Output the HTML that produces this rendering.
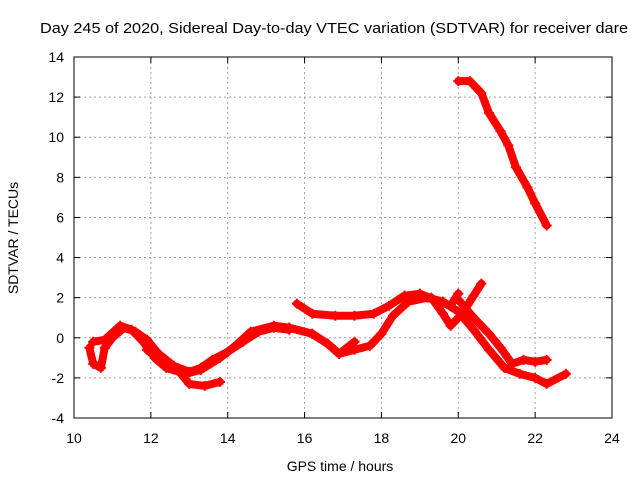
<!DOCTYPE html>
<html><head><meta charset="utf-8"><style>body{margin:0;background:#fff}svg{font-family:"Liberation Sans",sans-serif}</style></head>
<body>
<svg id="chart" width="640" height="480" xmlns="http://www.w3.org/2000/svg">
<text x="40" y="33" font-size="15" textLength="588" lengthAdjust="spacingAndGlyphs">Day 245 of 2020, Sidereal Day-to-day VTEC variation (SDTVAR) for receiver dare</text>
<text x="340" y="471" font-size="14" text-anchor="middle">GPS time / hours</text>
<text transform="translate(18,238) rotate(-90)" font-size="14" text-anchor="middle">SDTVAR / TECUs</text>
<g id="grid"></g><g id="series"></g>
<rect x="74" y="57" width="538" height="361" fill="none" stroke="#000" stroke-width="1"/>
</svg>
<script>
const xTicks=[10,12,14,16,18,20,22,24];
const yTicks=[-4,-2,0,2,4,6,8,10,12,14];
const sA_x=[10.4,10.5,10.7,10.8,11.0,11.3,11.6,11.9,12.2,12.6,13.0,13.3,13.6,14.0,14.4,14.8,15.2,15.6];
const sA_y=[-0.5,-1.3,-1.5,-0.5,0,0.5,0.3,-0.1,-0.8,-1.4,-1.7,-1.5,-1.1,-0.7,-0.2,0.3,0.5,0.4];
const sB_x=[10.5,10.8,11.2,11.5,11.8,12.1,12.4,12.9,13.3,13.8,14.2,14.6,15.2,15.6,16.2,16.6,16.9,17.3];
const sB_y=[-0.2,-0.1,0.6,0.4,-0.2,-1.0,-1.5,-1.8,-1.6,-1.0,-0.4,0.3,0.6,0.5,0.2,-0.3,-0.8,-0.2];
const sC_x=[11.9,12.3,12.7,13.0,13.4,13.8];
const sC_y=[-0.6,-1.2,-1.6,-2.3,-2.4,-2.2];
const sD_x=[15.8,16.2,16.8,17.3,17.8,18.2,18.6,19.0,19.5,19.8,20.0];
const sD_y=[1.7,1.2,1.1,1.1,1.2,1.6,2.1,2.2,1.8,1.6,2.2];
const sE_x=[15.6,16.2,16.6,16.9,17.3,17.7,18.0,18.3,18.7,19.2,19.6,20.0,20.4,20.8,21.2,21.6,22.0,22.3,22.8];
const sE_y=[0.5,0.2,-0.3,-0.8,-0.6,-0.4,0.2,1.1,1.8,2.0,1.8,1.3,0.4,-0.6,-1.5,-1.8,-2.0,-2.3,-1.8];
const sF_x=[19.3,19.6,19.8,20.1,20.4,20.6];
const sF_y=[2.0,1.2,0.6,1.2,2.1,2.7];
const sG_x=[20.0,20.4,20.8,21.1,21.4,21.7,22.0,22.3];
const sG_y=[1.9,1.0,0.2,-0.5,-1.3,-1.1,-1.2,-1.1];
const sH_x=[20.0,20.3,20.6,20.8,21.1,21.3,21.5,21.8,22.0,22.3];
const sH_y=[12.8,12.8,12.2,11.2,10.3,9.6,8.5,7.5,6.7,5.6];
const NS="http://www.w3.org/2000/svg";
const X=h=>74+(h-10)*538/14, Y=v=>418-(v+4)*361/18;
const grid=document.getElementById('grid'), ser=document.getElementById('series');
function mk(tag,attrs,parent){const e=document.createElementNS(NS,tag);for(const k in attrs)e.setAttribute(k,attrs[k]);parent.appendChild(e);return e;}
xTicks.forEach(t=>{const x=X(t);
 if(t>10&&t<24){const l=mk('line',{x1:x,x2:x,y1:57,y2:418,stroke:'#a0a0a0','stroke-dasharray':'2,3'},grid);
 
 }
 mk('line',{x1:x,x2:x,y1:418,y2:412,stroke:'#000'},grid);mk('line',{x1:x,x2:x,y1:57,y2:63,stroke:'#000'},grid);
 const tx=mk('text',{x:x,y:443,'font-size':14,'text-anchor':'middle'},grid);tx.textContent=t;
 
 });
yTicks.forEach(t=>{const y=Y(t);
 if(t>-4&&t<14){const l=mk('line',{x1:74,x2:612,y1:y,y2:y,stroke:'#a0a0a0','stroke-dasharray':'2,3'},grid);
 
 }
 mk('line',{x1:74,x2:80,y1:y,y2:y,stroke:'#000'},grid);mk('line',{x1:606,x2:612,y1:y,y2:y,stroke:'#000'},grid);
 const tx=mk('text',{x:64,y:y+5,'font-size':14,'text-anchor':'end'},grid);tx.textContent=t;
 
 });
[[sA_x,sA_y],[sB_x,sB_y],[sC_x,sC_y],[sD_x,sD_y],[sE_x,sE_y],[sF_x,sF_y],[sG_x,sG_y],[sH_x,sH_y]].forEach((s,i)=>{
 const pts=s[0].map((h,j)=>X(h)+','+Y(s[1][j])).join(' ');
 const p=mk('polyline',{points:pts,fill:'none',stroke:'#ff0000','stroke-width':8,'stroke-linejoin':'round','stroke-linecap':'round'},ser);
 
 
 s[0].forEach((h,j)=>{const x=X(h),y=Y(s[1][j]);
  const m=mk('path',{d:`M${x-5},${y}h10M${x},${y-5}v10`,stroke:'#ff0000','stroke-width':2},ser);
  
  });
});
</script>
</body></html>
